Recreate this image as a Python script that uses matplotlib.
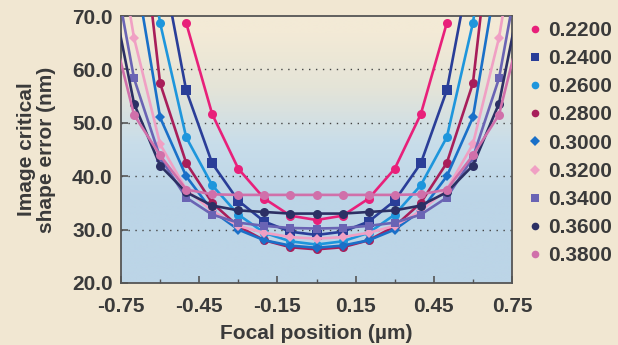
import numpy as np
import matplotlib
matplotlib.use("Agg")
import matplotlib.pyplot as plt
from matplotlib.ticker import FixedLocator
from matplotlib.colors import LinearSegmentedColormap

nan = np.nan
focus = [-0.8, -0.7, -0.6, -0.5, -0.4, -0.3, -0.2, -0.1, 0.0, 0.1, 0.2, 0.3, 0.4, 0.5, 0.6, 0.7, 0.8]

s0220 = [nan, nan, nan, 68.7, 51.6, 41.4, 35.8, 32.6, 31.8, 32.6, 35.8, 41.4, 51.6, 68.7, nan, nan, nan]
s0240 = [nan, nan, 82.0, 56.1, 42.4, 35.4, 31.5, 29.6, 29.0, 29.6, 31.5, 35.4, 42.4, 56.1, 82.0, nan, nan]
s0260 = [nan, 100.0, 68.7, 47.3, 38.3, 32.8, 29.4, 27.8, 27.2, 27.8, 29.4, 32.8, 38.3, 47.3, 68.7, 100.0, nan]
s0280 = [nan, 100.0, 57.4, 42.5, 35.0, 30.6, 28.0, 26.7, 26.3, 26.7, 28.0, 30.6, 35.0, 42.5, 57.4, 100.0, nan]
s0300 = [nan, 80.0, 51.0, 40.0, 33.5, 30.0, 28.0, 27.0, 26.6, 27.0, 28.0, 30.0, 33.5, 40.0, 51.0, 80.0, nan]
s0320 = [95.0, 65.9, 46.0, 37.5, 33.5, 30.7, 29.4, 28.6, 28.3, 28.6, 29.4, 30.7, 33.5, 37.5, 46.0, 65.9, 95.0]
s0340 = [85.0, 58.3, 43.5, 36.0, 32.8, 31.3, 30.7, 30.3, 30.2, 30.3, 30.7, 31.3, 32.8, 36.0, 43.5, 58.3, 85.0]
s0360 = [78.0, 53.6, 42.0, 37.0, 34.5, 33.6, 33.3, 33.0, 33.0, 33.0, 33.3, 33.6, 34.5, 37.0, 42.0, 53.6, 78.0]
s0380 = [71.0, 51.5, 43.9, 37.5, 36.6, 36.5, 36.5, 36.5, 36.5, 36.5, 36.5, 36.5, 36.6, 37.5, 43.9, 51.5, 71.0]

labels = ["0.2200", "0.2400", "0.2600", "0.2800", "0.3000", "0.3200", "0.3400", "0.3600", "0.3800"]
series = [s0220, s0240, s0260, s0280, s0300, s0320, s0340, s0360, s0380]
colors = ["#e8207a", "#2a3e98", "#1e96dc", "#a81e5a", "#1a70c8", "#f0a0c4", "#6a64b4", "#2c3064", "#d070aa"]
markers = ["o", "s", "o", "o", "D", "D", "s", "o", "o"]
msizes = [6.5, 6.5, 6.5, 6.5, 5.5, 5.5, 6.0, 6.5, 6.5]

xticks = [-0.75, -0.45, -0.15, 0.15, 0.45, 0.75]
yticks = [20, 30, 40, 50, 60, 70]

txt = "#3a3a3a"
fs = 15
plt.rcParams['font.family'] = ['Liberation Sans', 'DejaVu Sans']
plt.rcParams['font.weight'] = 'bold'

fig = plt.figure(figsize=(6.18, 3.45), dpi=100)
fig.patch.set_facecolor("#f1e7d2")
ax = fig.add_axes([121/618, 1-283/345, 391/618, 267/345])

# background gradient (cream at top -> light blue below)
cmap = LinearSegmentedColormap.from_list("bg", ["#bcd5e7", "#c8ddea", "#e4e4d8", "#f3ead6"])
grad = np.linspace(0, 1, 256).reshape(-1, 1)
grad = np.clip(grad * 1.6 - 0.5, 0, 1)
ax.imshow(grad, cmap=cmap, aspect="auto", extent=[0, 1, 0, 1], transform=ax.transAxes,
          origin="lower", zorder=0, interpolation="bilinear")

for vals, lab, c, m, ms in zip(series, labels, colors, markers, msizes):
    ax.plot(focus, vals, color=c, marker=m, markersize=ms, linewidth=1.9, label=lab,
            markeredgewidth=0, zorder=3, clip_on=True)

ax.set_xlim(-0.75, 0.75)
ax.set_ylim(20, 70)
ax.xaxis.set_major_locator(FixedLocator(xticks))
ax.xaxis.set_minor_locator(FixedLocator([-0.6, -0.3, 0.0, 0.3, 0.6]))
ax.yaxis.set_major_locator(FixedLocator(yticks))
ax.set_xticklabels([f"{t:.2f}" for t in xticks])
ax.set_yticklabels([f"{t:.1f}" for t in yticks])
ax.tick_params(axis="both", which="major", direction="in", length=5, width=1.2, color="#555555",
               labelsize=fs, labelcolor=txt)
ax.tick_params(axis="y", which="major", pad=6)
ax.tick_params(axis="x", which="major", pad=10)
ax.tick_params(axis="x", which="minor", direction="in", length=3, width=1.0, color="#555555")
for lab in ax.get_xticklabels() + ax.get_yticklabels():
    lab.set_fontweight("bold")

for g in [30, 40, 50, 60]:
    ax.axhline(g, color="#444444", linestyle=(0, (1, 4)), linewidth=1.0, zorder=1)

for sp in ax.spines.values():
    sp.set_color("#555555")
    sp.set_linewidth(1.3)

ax.set_xlabel("Focal position (\u00b5m)", fontsize=fs, fontweight="bold", color=txt)
ax.xaxis.set_label_coords(0.5, -0.155)
ax.set_ylabel("Image critical\nshape error (nm)", fontsize=fs, fontweight="bold", color=txt,
              linespacing=1.05)
ax.yaxis.set_label_coords(-0.166, 0.5)

leg = fig.legend(loc="upper left", bbox_to_anchor=(529/618, 1-21/345), frameon=False,
                 handlelength=0.6, handletextpad=0.32, labelspacing=0.44, fontsize=fs,
                 borderpad=0, borderaxespad=0)
for t in leg.get_texts():
    t.set_color(txt)
    t.set_fontweight("bold")
for h in leg.legend_handles:
    h.set_linestyle("None")
    h.set_markersize(5.5)

fig.savefig("out.png", dpi=100, facecolor=fig.get_facecolor())
